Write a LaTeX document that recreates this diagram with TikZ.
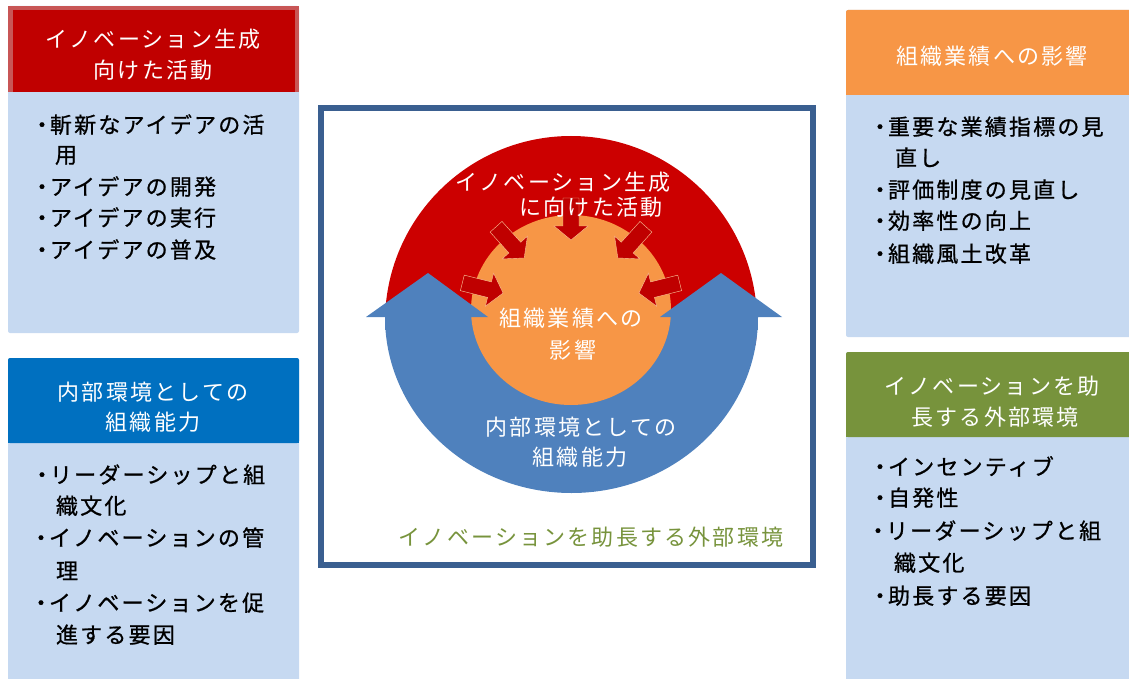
\documentclass[tikz,border=0pt]{standalone}
\usepackage{fontspec}
\newfontfamily\jp[LetterSpace=10]{Noto Sans CJK JP}
\newfontfamily\jpb[LetterSpace=10,FakeBold=0.8]{Noto Sans CJK JP}
\definecolor{hRed}{HTML}{C00000}
\definecolor{hRedB}{HTML}{C85656}
\definecolor{hBlue}{HTML}{0070C0}
\definecolor{hOrange}{HTML}{F79646}
\definecolor{hGreen}{HTML}{77933C}
\definecolor{bodyBlue}{HTML}{C6D9F1}
\definecolor{frameBlue}{HTML}{3A5F90}
\definecolor{bigRed}{HTML}{CC0000}
\definecolor{arrRed}{HTML}{BF0000}
\definecolor{uBlue}{HTML}{4F81BD}
\begin{document}
\begin{tikzpicture}[x=1pt,y=-1pt,
  txt/.style={font=\jp\fontsize{22}{26}\selectfont, inner sep=0pt, outer sep=0pt, anchor=base},
  wtxt/.style={txt, text=white},
  btxt/.style={txt, font=\jpb\fontsize{22}{26}\selectfont, anchor=base west, text=black},
  gtxt/.style={txt, text=hGreen},
  bodybox/.style={fill=bodyBlue, rounded corners=2pt},
  frame/.style={draw=frameBlue, line width=5.5pt},
  redarrow/.style={fill=arrRed, draw=hOrange!55!white, line width=0.4pt}
]
\useasboundingbox (0,0) rectangle (1129,679);
\clip (0,0) rectangle (1129,679);

% ---------- side boxes ----------
% top left
\fill[bodybox] (8,6) rectangle (299,333);
\fill[hRed] (8,6) rectangle (299,92);
\draw[hRedB, line width=4.5pt] (10.25,92) -- (10.25,8.25) -- (296.75,8.25) -- (296.75,92);
% bottom left
\fill[bodybox] (8,358) rectangle (299,700);
\fill[hBlue, rounded corners=2pt] (8,358) rectangle (299,443);
\fill[hBlue] (8,380) rectangle (299,443);
% top right
\fill[bodybox] (846,10) rectangle (1140,337);
\fill[hOrange, rounded corners=2pt] (846,10) rectangle (1140,95);
\fill[hOrange] (846,40) rectangle (1140,95);
% bottom right
\fill[bodybox] (846,352) rectangle (1140,700);
\fill[hGreen, rounded corners=2pt] (846,352) rectangle (1140,437);
\fill[hGreen] (846,380) rectangle (1140,437);

% header texts
\node[wtxt] (tlh1) at (153,48) {イノベーション生成};
\node[wtxt] (tlh2) at (153,79) {向けた活動};
\node[wtxt] (blh1) at (153,400) {内部環境としての};
\node[wtxt] (blh2) at (153,430) {組織能力};
\node[wtxt] (trh1) at (992,65) {組織業績への影響};
\node[wtxt] (brh1) at (992,394) {イノベーションを助};
\node[wtxt] (brh2) at (995,425) {長する外部環境};

% body texts
\node[btxt] (tl1) at (31,133) {・\kern-3pt 斬新なアイデアの活};
\node[btxt] (tl2) at (55,163) {用};
\node[btxt] (tl3) at (31,195) {・\kern-3pt アイデアの開発};
\node[btxt] (tl4) at (31,226) {・\kern-3pt アイデアの実行};
\node[btxt] (tl5) at (31,258) {・\kern-3pt アイデアの普及};

\node[btxt] (bl1) at (31,483) {・\kern-3pt リーダーシップと組};
\node[btxt] (bl2) at (56,514) {織文化};
\node[btxt] (bl3) at (30,546) {・\kern-3pt イノベーションの管};
\node[btxt] (bl4) at (56,579) {理};
\node[btxt] (bl5) at (30,611) {・\kern-3pt イノベーションを促};
\node[btxt] (bl6) at (56,643) {進する要因};

\node[btxt] (tr1) at (869,135) {・\kern-3pt 重要な業績指標の見};
\node[btxt] (tr2) at (895,166) {直し};
\node[btxt] (tr3) at (869,198) {・\kern-3pt 評価制度の見直し};
\node[btxt] (tr4) at (869,229) {・\kern-3pt 効率性の向上};
\node[btxt] (tr5) at (869,262) {・\kern-3pt 組織風土改革};

\node[btxt] (br1) at (869,475) {・\kern-3pt インセンティブ};
\node[btxt] (br2) at (869,506) {・\kern-3pt 自発性};
\node[btxt] (br3) at (867,539) {・\kern-3pt リーダーシップと組};
\node[btxt] (br4) at (894,571) {織文化};
\node[btxt] (br5) at (869,604) {・\kern-3pt 助長する要因};

% ---------- centre frame ----------
\draw[frame] (321,108) rectangle (813,565);

% big red circle (upper part)
\begin{scope}
  \clip (370,120) -- (780,120) -- (780,345) -- (571,345) -- (571,318) -- (370,318) -- cycle;
  \fill[bigRed] (571,322) circle[radius=186];
\end{scope}
% blue U band (lower half ellipse)
\begin{scope}
  \clip (370,317) rectangle (780,520);
  \fill[uBlue] (571.5,317) ellipse[x radius=186.5, y radius=176];
\end{scope}
\fill[uBlue] (385,317) rectangle (470,330);
\fill[uBlue] (668,317) rectangle (758,330);
% orange circle
\fill[hOrange] (571,310) ellipse[x radius=100, y radius=95];
% small red inward arrows
\foreach \a in {90,48,132,14,166}{
  \begin{scope}[shift={(571,310)}, rotate=\a]
    \path[redarrow] (112,8) -- (84,8) -- (84,17) -- (70,0) -- (84,-17) -- (84,-8) -- (112,-8) -- cycle;
  \end{scope}
}
% blue arrow heads
\fill[uBlue] (366,317) -- (428,273) -- (488,317) -- cycle;
\fill[uBlue] (660,317) -- (721,273) -- (782,317) -- cycle;

% centre texts
\node[wtxt] (c1) at (563,191) {イノベーション生成};
\node[wtxt] (c2) at (591,215) {に向けた活動};
\node[wtxt] (c3) at (571,326) {組織業績への};
\node[wtxt] (c4) at (573,358) {影響};
\node[wtxt] (c5) at (581,435) {内部環境としての};
\node[wtxt] (c6) at (580,465) {組織能力};
\node[gtxt] (c7) at (591,545) {イノベーションを助長する外部環境};
\end{tikzpicture}
\end{document}
